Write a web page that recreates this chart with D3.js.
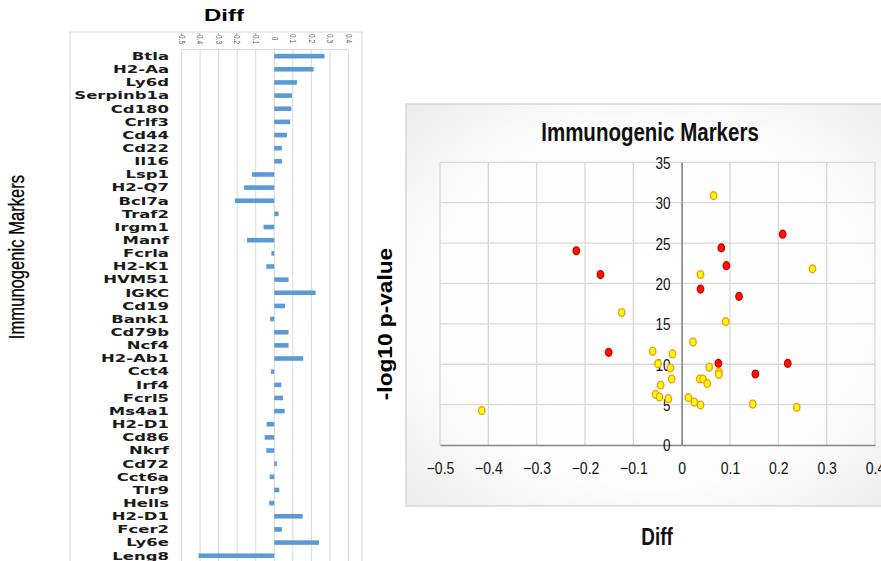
<!DOCTYPE html>
<html>
<head>
<meta charset="utf-8">
<script src="https://cdn.jsdelivr.net/npm/d3@7"></script>
<style>
  html, body { margin: 0; padding: 0; background: #ffffff; }
  svg { display: block; }
</style>
</head>
<body>
<svg id="chart" width="881" height="561"></svg>
<script>
// ---------------- DATA ----------------
const categories = ["Btla","H2-Aa","Ly6d","Serpinb1a","Cd180","Crlf3","Cd44","Cd22","Il16","Lsp1","H2-Q7","Bcl7a","Traf2","Irgm1","Manf","Fcrla","H2-K1","HVM51","IGKC","Cd19","Bank1","Cd79b","Ncf4","H2-Ab1","Cct4","Irf4","Fcrl5","Ms4a1","H2-D1","Cd86","Nkrf","Cd72","Cct6a","Tlr9","Hells","H2-D1","Fcer2","Ly6e","Leng8"];
const barDiff = [0.271,0.212,0.122,0.095,0.092,0.086,0.068,0.041,0.041,-0.120,-0.163,-0.212,0.023,-0.058,-0.147,-0.016,-0.043,0.077,0.223,0.058,-0.022,0.077,0.077,0.156,-0.018,0.038,0.047,0.056,-0.041,-0.052,-0.043,0.014,-0.025,0.027,-0.027,0.153,0.041,0.241,-0.408];
const barTicks = ["-0.5","-0.4","-0.3","-0.2","-0.1","0","0.1","0.2","0.3","0.4"];

const scatterDiff = [0.066,0.209,-0.218,0.082,0.0925,0.2706,-0.168,0.039,0.039,0.1187,-0.124,0.091,0.0234,-0.151,-0.060,-0.019,-0.049,-0.0234,0.076,0.2195,0.057,0.077,0.077,0.1525,-0.0207,0.0373,0.044,0.053,-0.0435,-0.054,-0.046,-0.0276,0.0138,0.026,0.039,0.147,0.238,-0.4135];
const scatterLogP = [30.87,26.1,24.05,24.4,22.2,21.8,21.1,21.1,19.3,18.4,16.4,15.27,12.75,11.47,11.6,11.27,10.07,9.53,10.1,10.1,9.62,9.04,8.75,8.79,8.17,8.17,8.17,7.6,7.43,6.27,5.94,5.73,5.86,5.32,4.95,5.07,4.66,4.25];
const scatterGroup = ["y","r","r","r","r","y","r","y","r","r","y","y","y","r","y","y","y","y","r","r","y","y","y","r","y","y","y","y","y","y","y","y","y","y","y","y","y","y"];
const xTicks = [-0.5,-0.4,-0.3,-0.2,-0.1,0,0.1,0.2,0.3,0.4];
const yTicks = [0,5,10,15,20,25,30,35];

const svg = d3.select("#chart");
const grid = "#d9d9d9";

// ---------------- LEFT: horizontal bar chart ----------------
const L = { left: 181.5, right: 348.5, top: 49.5, rowH: 13.15 };
const bx = d3.scaleLinear().domain([-0.5, 0.4]).range([L.left, L.right]);
const by = d3.scaleBand().domain(d3.range(categories.length))
  .range([L.top, L.top + L.rowH * categories.length]).paddingInner(0.65).paddingOuter(0.33);

// outer frame
svg.append("rect").attr("x", 70).attr("y", 32).attr("width", 292).attr("height", 540)
  .attr("fill", "#fff").attr("stroke", grid).attr("stroke-width", 1);

// title
svg.append("text").attr("transform", "translate(224,21) scale(1.5,1)")
  .attr("text-anchor", "middle").attr("font-family", "Liberation Sans, Arial, sans-serif")
  .attr("font-weight", "bold").attr("font-size", 16).attr("fill", "#000").text("Diff");

// y title
svg.append("text").attr("transform", "translate(24,257) rotate(-90) scale(0.95,1.25)")
  .attr("text-anchor", "middle").attr("font-family", "Liberation Sans, Arial, sans-serif")
  .attr("font-size", 17.5).attr("fill", "#000").attr("stroke", "#000").attr("stroke-width", 0.25)
  .text("Immunogenic Markers");

// gridlines + plot frame
const plotBottom = L.top + L.rowH * categories.length;
svg.append("g").selectAll("line").data(xTicks).join("line")
  .attr("x1", d => bx(d)).attr("x2", d => bx(d))
  .attr("y1", L.top).attr("y2", plotBottom)
  .attr("stroke", grid).attr("stroke-width", 1);
svg.append("line").attr("x1", L.left).attr("x2", L.right).attr("y1", L.top).attr("y2", L.top)
  .attr("stroke", grid);

// top axis with rotated tick labels
const topAxis = d3.axisTop(bx).tickValues(xTicks).tickFormat((d, i) => barTicks[i]).tickSize(0);
const gTop = svg.append("g").attr("transform", `translate(0,${L.top})`).call(topAxis);
gTop.select(".domain").remove();
gTop.selectAll("text")
  .attr("x", 0).attr("y", 0).attr("dy", "0.35em")
  .attr("transform", "translate(0,-11) rotate(90) scale(1,1.4)")
  .attr("text-anchor", "middle")
  .attr("font-family", "Liberation Sans, Arial, sans-serif")
  .attr("font-size", 6.5).attr("fill", "#595959");

// bars
svg.append("g").selectAll("rect").data(barDiff).join("rect")
  .attr("x", d => bx(Math.min(0, d)))
  .attr("width", d => Math.abs(bx(d) - bx(0)))
  .attr("y", (d, i) => by(i))
  .attr("height", by.bandwidth())
  .attr("fill", "#5b9bd5");

// category labels via left axis
const leftAxis = d3.axisLeft(by).tickFormat(i => categories[i]).tickSize(0);
const gLeft = svg.append("g").attr("transform", "translate(169,0)").call(leftAxis);
gLeft.select(".domain").remove();
gLeft.selectAll("text")
  .attr("x", 0).attr("dy", "0.37em")
  .attr("transform", "scale(1.6,1)")
  .attr("text-anchor", "end")
  .attr("font-family", "DejaVu Sans, Verdana, sans-serif")
  .attr("font-weight", "bold").attr("font-size", 10.3).attr("fill", "#1a1a1a");

// ---------------- RIGHT: scatter ----------------
const defs = svg.append("defs");
const rg = defs.append("radialGradient").attr("id", "bg")
  .attr("cx", "50%").attr("cy", "50%").attr("r", "72%");
rg.append("stop").attr("offset", "0%").attr("stop-color", "#ffffff");
rg.append("stop").attr("offset", "62%").attr("stop-color", "#fdfdfd");
rg.append("stop").attr("offset", "100%").attr("stop-color", "#ebebeb");

svg.append("rect").attr("x", 406).attr("y", 104).attr("width", 490).attr("height", 402)
  .attr("fill", "url(#bg)").attr("stroke", "#d6d6d6").attr("stroke-width", 1.5);

const sx = d3.scaleLinear().domain([-0.5, 0.4]).range([440, 875]);
const sy = d3.scaleLinear().domain([0, 35]).range([445, 162.3]);

// title
svg.append("text").attr("transform", "translate(650,141) scale(0.82,1)")
  .attr("text-anchor", "middle").attr("font-family", "Liberation Sans, Arial, sans-serif")
  .attr("font-weight", "bold").attr("font-size", 25).attr("fill", "#111").text("Immunogenic Markers");

// gridlines
svg.append("g").selectAll("line").data(xTicks).join("line")
  .attr("x1", d => sx(d)).attr("x2", d => sx(d)).attr("y1", sy(35)).attr("y2", sy(0))
  .attr("stroke", grid).attr("stroke-width", 1.3);
svg.append("g").selectAll("line").data(yTicks.filter(d => d > 0)).join("line")
  .attr("x1", sx(-0.5)).attr("x2", sx(0.4)).attr("y1", d => sy(d)).attr("y2", d => sy(d))
  .attr("stroke", grid).attr("stroke-width", 1.3);

// x axis
const xAxis = d3.axisBottom(sx).tickValues(xTicks).tickFormat(d => d === 0 ? "0" : d3.format(".1f")(d)).tickSize(0);
const gx = svg.append("g").attr("transform", `translate(0,${sy(0)})`).call(xAxis);
gx.select(".domain").attr("stroke", "#868686").attr("stroke-width", 1.5);
gx.selectAll("text")
  .attr("y", 0).attr("dy", 0).attr("x", 0)
  .attr("transform", "translate(0,29) scale(0.85,1)")
  .attr("font-family", "Liberation Sans, Arial, sans-serif")
  .attr("font-size", 16.5).attr("fill", "#111");

// y axis at x = 0
const yAxis = d3.axisLeft(sy).tickValues(yTicks).tickSize(0);
const gy = svg.append("g").attr("transform", `translate(${sx(0)},0)`).call(yAxis);
gy.select(".domain").attr("stroke", "#868686").attr("stroke-width", 1.5);
gy.selectAll("text")
  .attr("x", -13.5).attr("dy", "0.36em")
  .attr("transform", "scale(0.82,1)")
  .attr("font-family", "Liberation Sans, Arial, sans-serif")
  .attr("font-size", 16.5).attr("fill", "#111");

// points
const pts = scatterDiff.map((d, i) => ({ x: d, y: scatterLogP[i], g: scatterGroup[i] }));
svg.append("g").selectAll("ellipse").data(pts).join("ellipse")
  .attr("cx", d => sx(d.x)).attr("cy", d => sy(d.y))
  .attr("rx", 3.2).attr("ry", 3.9)
  .attr("fill", d => d.g === "r" ? "#ff1400" : "#ffff00")
  .attr("stroke", d => d.g === "r" ? "#d40000" : "#f39a1d")
  .attr("stroke-width", 1.4);

// axis titles
svg.append("text").attr("transform", "translate(657,545) scale(0.82,1)")
  .attr("text-anchor", "middle").attr("font-family", "Liberation Sans, Arial, sans-serif")
  .attr("font-weight", "bold").attr("font-size", 23).attr("fill", "#111").text("Diff");

svg.append("text").attr("transform", "translate(392,324) rotate(-90) scale(1.08,1)")
  .attr("text-anchor", "middle").attr("font-family", "Liberation Sans, Arial, sans-serif")
  .attr("font-weight", "bold").attr("font-size", 21).attr("fill", "#000").text("-log10 p-value");
</script>
</body>
</html>
